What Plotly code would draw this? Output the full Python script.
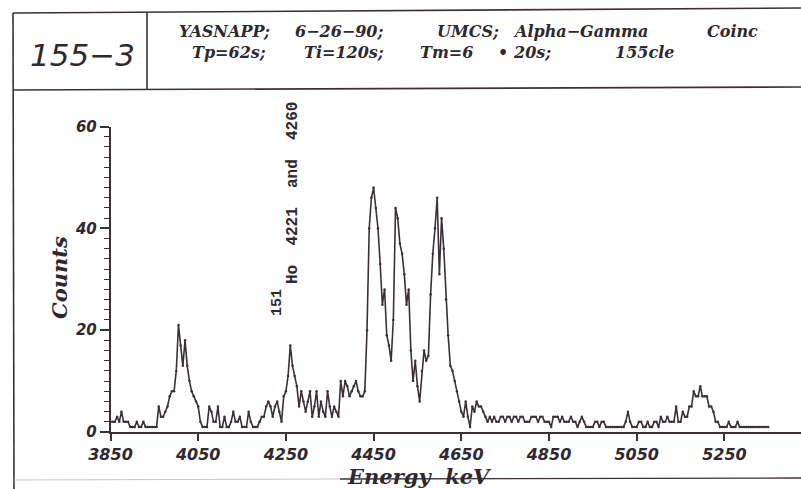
import plotly.graph_objects as go

W, H = 801, 489

# Alpha spectrum in coincidence with gamma rays: 5 keV channels starting at 3850 keV
e_start, e_step = 3850, 5
counts = [
    2, 2, 2, 3, 2, 4, 2, 2, 2, 1,        # 3850
    1, 1, 2, 1, 1, 2, 1, 1, 1, 1,        # 3900
    1, 1, 5, 3, 3, 4, 5, 7, 8, 8,        # 3950
    12, 21, 17, 13, 18, 13, 10, 8, 7, 6,  # 4000
    5, 2, 1, 1, 1, 5, 4, 2, 2, 5,        # 4050
    1, 1, 3, 1, 1, 2, 4, 2, 2, 3,        # 4100
    1, 1, 1, 4, 2, 1, 1, 1, 2, 3,        # 4150
    3, 5, 6, 5, 3, 5, 6, 4, 2, 7,        # 4200
    8, 11, 17, 13, 11, 9, 5, 8, 6, 4,    # 4250
    6, 8, 3, 5, 8, 3, 6, 4, 3, 8,        # 4300
    5, 3, 5, 4, 3, 10, 7, 10, 9, 7,      # 4350
    8, 9, 10, 8, 7, 7, 8, 20, 40, 46,    # 4400
    48, 44, 40, 33, 25, 28, 19, 17, 14, 22,  # 4450
    44, 42, 37, 35, 31, 25, 28, 16, 10, 14,  # 4500
    9, 6, 12, 16, 14, 15, 27, 35, 40, 46,    # 4550
    31, 42, 36, 26, 19, 13, 12, 10, 8, 6,    # 4600
    4, 3, 6, 3, 1, 5, 4, 6, 5, 5,        # 4650
    4, 3, 2, 3, 2, 3, 2, 2, 3, 3,        # 4700
    2, 3, 3, 2, 3, 3, 2, 3, 3, 2,        # 4750
    2, 2, 3, 3, 3, 2, 3, 3, 2, 2,        # 4800
    2, 1, 3, 3, 3, 2, 3, 2, 2, 2,        # 4850
    3, 2, 2, 1, 2, 3, 2, 1, 1, 1,        # 4900
    1, 2, 2, 1, 2, 2, 1, 1, 1, 1,        # 4950
    1, 1, 1, 1, 1, 2, 4, 2, 1, 1,        # 5000
    1, 2, 2, 1, 1, 2, 1, 1, 2, 2,        # 5050
    1, 3, 2, 2, 3, 2, 2, 2, 5, 2,        # 5100
    2, 4, 3, 3, 5, 5, 8, 7, 7, 9,        # 5150
    7, 7, 7, 5, 5, 4, 2, 2, 1, 1,        # 5200
    1, 1, 2, 1, 1, 1, 2, 1, 1, 1,        # 5250
    1, 1, 1, 1, 1, 1, 1, 1, 1, 1,        # 5300
    1,                                   # 5350
]
energy = [e_start + i * e_step for i in range(len(counts))]

x_tick_vals = [3850, 4050, 4250, 4450, 4650, 4850, 5050, 5250]
y_tick_vals = [0, 20, 40, 60]

header_id = "155−3"
header_line1 = [("YASNAPP;", 178), ("6−26−90;", 294), ("UMCS;", 436),
                ("Alpha−Gamma", 512), ("Coinc", 706)]
header_line2 = [("Tp=62s;", 191), ("Ti=120s;", 303), ("Tm=6", 419),
                ("•", 497), ("20s;", 512), ("155cle", 614)]
peak_label = "Ho\u00a0\u00a04221\u00a0\u00a0and\u00a0\u00a04260"
peak_mass = "151"

INK = "#3b3038"
TEXT = "#2e292f"


def px(x):
    return x / W


def py(y):
    return 1 - y / H


# pixel geometry of the axes
x0_pix, kev_per_pix = 110.5, 1 / 0.4385
y0_pix, y60_pix = 432, 126.5

fig = go.Figure()
fig.add_trace(go.Scatter(
    x=energy, y=counts, mode="lines+markers",
    line=dict(color=INK, width=1.6),
    marker=dict(color=INK, size=2.5),
    hoverinfo="x+y", showlegend=False,
))

fig.update_layout(
    width=W, height=H,
    margin=dict(l=0, r=0, t=0, b=0, autoexpand=False),
    paper_bgcolor="white", plot_bgcolor="white",
    xaxis=dict(
        domain=[px(x0_pix), 1.0],
        range=[e_start, e_start + (W - x0_pix) * kev_per_pix],
        showline=True, linecolor=INK, linewidth=1.5,
        ticks="outside", ticklen=7, tickwidth=1.5, tickcolor=INK,
        tickmode="array", tickvals=x_tick_vals,
        tickfont=dict(family="DejaVu Sans", size=16, color=TEXT,
                      weight="bold", style="italic"),
        showgrid=False, zeroline=False, automargin=False,
    ),
    yaxis=dict(
        domain=[py(y0_pix), py(y60_pix)],
        range=[0, 60],
        showline=True, linecolor=INK, linewidth=1.5,
        ticks="outside", ticklen=9, tickwidth=1.5, tickcolor=INK,
        tickmode="array", tickvals=y_tick_vals,
        minor=dict(dtick=2, tick0=0, ticks="outside", ticklen=5,
                   tickwidth=1, tickcolor=INK, showgrid=False),
        tickfont=dict(family="DejaVu Sans", size=15, color=TEXT,
                      weight="bold", style="italic"),
        showgrid=False, zeroline=False, automargin=False,
    ),
)

# page frame and header box
frame = [
    ((13, 13), (801, 8), INK, 1.6),
    ((13, 13), (14, 489), INK, 1.6),
    ((147, 13), (147, 90), INK, 1.6),
    ((13, 90), (801, 87), INK, 1.6),
    ((14, 480), (340, 479), "#c9c4c6", 1.0),
    ((340, 479), (801, 478), INK, 1.4),
]
for (xa, ya), (xb, yb), col, wd in frame:
    fig.add_shape(type="line", xref="paper", yref="paper",
                  x0=px(xa), y0=py(ya), x1=px(xb), y1=py(yb),
                  line=dict(color=col, width=wd))

fig.add_annotation(
    text=header_id, x=px(82), y=py(55), xref="paper", yref="paper",
    xanchor="center", yanchor="middle", showarrow=False,
    font=dict(family="DejaVu Sans", size=31, color=TEXT, style="italic"),
)

head_font = dict(family="DejaVu Serif", size=16, color=TEXT, weight="bold", style="italic")
for line, yc in ((header_line1, 31), (header_line2, 52)):
    for txt, xl in line:
        fig.add_annotation(
            text=txt, x=px(xl), y=py(yc), xref="paper", yref="paper",
            xanchor="left", yanchor="middle", showarrow=False, borderpad=0,
            font=head_font,
        )

# axis titles
title_font = dict(family="DejaVu Serif", size=21, color=TEXT, weight="bold", style="italic")
fig.add_annotation(
    text="Counts", x=px(59), y=py(278), xref="paper", yref="paper",
    textangle=-90, xanchor="center", yanchor="middle", showarrow=False, font=title_font,
)
fig.add_annotation(
    text="Energy\u00a0\u00a0keV", x=px(420), y=py(476), xref="paper", yref="paper",
    xanchor="center", yanchor="middle", showarrow=False, font=title_font,
)

# peak identification
label_font = dict(family="Liberation Mono", size=16, color=TEXT, weight="bold")
fig.add_annotation(
    text=peak_label, x=px(293), y=py(193), xref="paper", yref="paper",
    textangle=-90, xanchor="center", yanchor="middle", showarrow=False, font=label_font,
)
fig.add_annotation(
    text=peak_mass, x=px(277), y=py(303), xref="paper", yref="paper",
    textangle=-90, xanchor="center", yanchor="middle", showarrow=False,
    font=dict(family="Liberation Mono", size=15, color=TEXT, weight="bold"),
)

fig.write_html("out.html")
